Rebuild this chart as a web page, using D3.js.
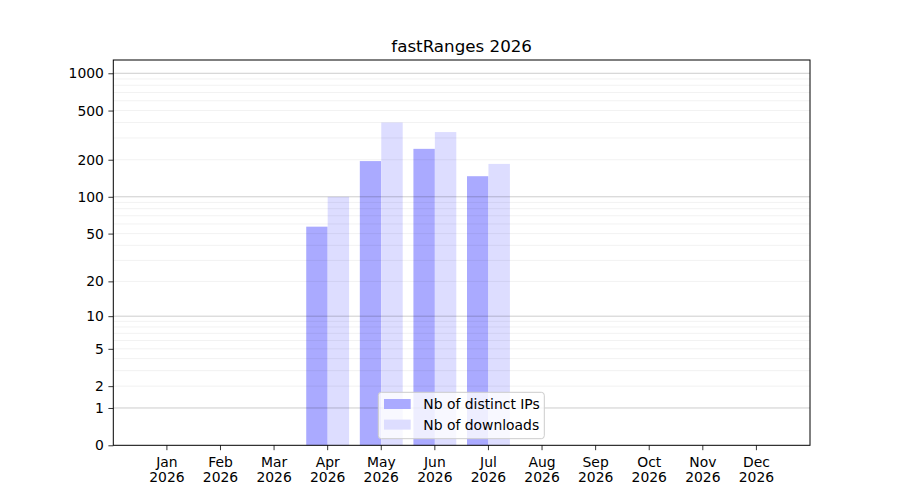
<!DOCTYPE html>
<html>
<head>
<meta charset="utf-8">
<script src="https://cdn.jsdelivr.net/npm/d3@7"></script>
<style>
  body { margin: 0; background: #fff; }
  text { font-family: "DejaVu Sans", sans-serif; fill: #000; }
</style>
</head>
<body>
<div id="chart"></div>
<script>
const months = ['Jan', 'Feb', 'Mar', 'Apr', 'May', 'Jun', 'Jul', 'Aug', 'Sep', 'Oct', 'Nov', 'Dec'];
const year = '2026';
const distinctIPs = [0, 0, 0, 57, 195, 245, 147, 0, 0, 0, 0, 0];
const downloads = [0, 0, 0, 100, 400, 335, 185, 0, 0, 0, 0, 0];
const yTicks = [0, 1, 2, 5, 10, 20, 50, 100, 200, 500, 1000];
const yMajorGrid = [1, 10, 100, 1000];
const seriesNames = ['Nb of distinct IPs', 'Nb of downloads'];

const width = 900;
const height = 500;
const margin = {top: 60, right: 90, bottom: 55, left: 113.3};

const x = d3.scaleLinear()
    .domain([-1, 12])
    .range([margin.left, width - margin.right]);

const y = d3.scaleSymlog()
    .constant(1)
    .domain([0, 1280])
    .range([445.3, margin.top]);

const svg = d3.select('#chart')
    .append('svg')
    .attr('width', width)
    .attr('height', height);

// bars
const barW = 0.4;
const bars = svg.append('g');
bars.selectAll('.ip')
    .data(distinctIPs)
    .enter()
    .append('rect')
    .attr('class', 'ip')
    .attr('x', (d, i) => x(i - barW))
    .attr('width', x(barW) - x(0))
    .attr('y', d => y(d))
    .attr('height', d => y(0) - y(d))
    .attr('fill', '#aaaaff');

bars.selectAll('.dl')
    .data(downloads)
    .enter()
    .append('rect')
    .attr('class', 'dl')
    .attr('x', (d, i) => x(i))
    .attr('width', x(barW) - x(0))
    .attr('y', d => y(d))
    .attr('height', d => y(0) - y(d))
    .attr('fill', '#ddddff');

// grid (drawn over the bars, like matplotlib)
const minorGrid = [];
[1, 10, 100].forEach(dec => {
    for (let k = 2; k <= 9; k++) minorGrid.push(dec * k);
});
const grid = svg.append('g');
grid.selectAll('.minor')
    .data(minorGrid)
    .enter()
    .append('line')
    .attr('x1', x(-1)).attr('x2', x(12))
    .attr('y1', d => y(d)).attr('y2', d => y(d))
    .attr('stroke', '#000')
    .attr('stroke-opacity', 0.07)
    .attr('stroke-width', 0.8);
grid.selectAll('.major')
    .data(yMajorGrid)
    .enter()
    .append('line')
    .attr('x1', x(-1)).attr('x2', x(12))
    .attr('y1', d => y(d)).attr('y2', d => y(d))
    .attr('stroke', '#000')
    .attr('stroke-opacity', 0.25)
    .attr('stroke-width', 0.8);

// frame
svg.append('rect')
    .attr('x', x(-1))
    .attr('y', margin.top)
    .attr('width', x(12) - x(-1))
    .attr('height', y(0) - margin.top)
    .attr('fill', 'none')
    .attr('stroke', '#000')
    .attr('stroke-width', 1);

// y axis
const yAxis = svg.append('g')
    .attr('transform', `translate(${x(-1)},0)`)
    .call(d3.axisLeft(y).tickValues(yTicks).tickFormat(d3.format('d')).tickSize(4.9).tickPadding(4.5));
yAxis.select('.domain').remove();
yAxis.selectAll('line').attr('stroke', '#000').attr('stroke-width', 0.8);
yAxis.selectAll('text').style('font-size', '13.9px').attr('fill', '#000');

// x axis
const xAxis = svg.append('g')
    .attr('transform', `translate(-0.5,${y(0)})`)
    .call(d3.axisBottom(x).tickValues(d3.range(months.length)).tickFormat(i => months[i]).tickSize(4.9));
xAxis.select('.domain').remove();
xAxis.selectAll('line').attr('stroke', '#000').attr('stroke-width', 0.8);
xAxis.selectAll('text').remove();
xAxis.selectAll('.tick')
    .append('text')
    .attr('text-anchor', 'middle')
    .style('font-size', '13.9px')
    .each(function(i) {
        const t = d3.select(this);
        t.append('tspan').attr('x', 0).attr('y', 21.3).text(months[i]);
        t.append('tspan').attr('x', 0).attr('y', 36.4).text(year);
    });

// title
svg.append('text')
    .attr('x', (x(-1) + x(12)) / 2)
    .attr('y', 52)
    .attr('text-anchor', 'middle')
    .style('font-size', '16.7px')
    .text('fastRanges 2026');

// legend
const legend = svg.append('g').attr('transform', 'translate(378.3,392.3)');
legend.append('rect')
    .attr('width', 166)
    .attr('height', 46.4)
    .attr('rx', 3)
    .attr('fill', '#fff')
    .attr('fill-opacity', 0.8)
    .attr('stroke', '#cccccc')
    .attr('stroke-width', 1);
const legendColors = ['#aaaaff', '#ddddff'];
seriesNames.forEach((name, i) => {
    legend.append('rect')
        .attr('x', 5.7)
        .attr('y', 6.7 + i * 20.6)
        .attr('width', 26.7)
        .attr('height', 10)
        .attr('fill', legendColors[i]);
    legend.append('text')
        .attr('x', 45)
        .attr('y', 16.8 + i * 20.6)
        .style('font-size', '13.9px')
        .text(name);
});
</script>
</body>
</html>
